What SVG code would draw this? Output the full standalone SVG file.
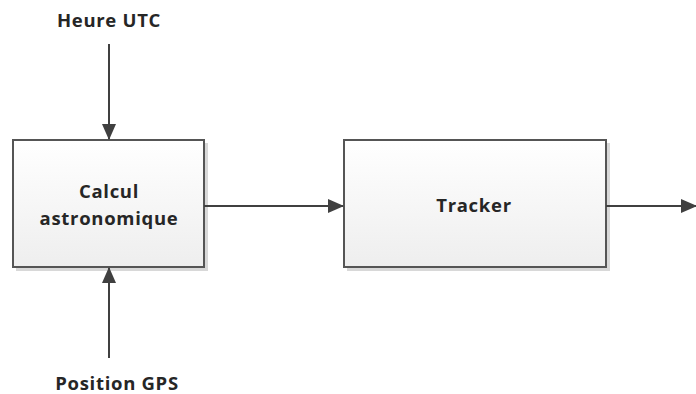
<svg xmlns="http://www.w3.org/2000/svg" width="696" height="394" viewBox="0 0 696 394">
<defs>
<linearGradient id="g" x1="0" y1="0" x2="0" y2="1">
<stop offset="0" stop-color="#ffffff"/>
<stop offset="1" stop-color="#eeeeee"/>
</linearGradient>
<style>
.box{fill:url(#g);stroke:#555555;stroke-width:2}
.sh{fill:#d8d8d8}
.lbl{font-family:"Open Sans",sans-serif;font-weight:bold;font-size:18.5px;letter-spacing:0.7px;fill:#262626;text-anchor:middle}
.c{stroke:#404040;stroke-width:2;fill:none}
</style>
<marker id="a" viewBox="0 0 16 16" refX="15" refY="8" markerWidth="16" markerHeight="16" markerUnits="userSpaceOnUse" orient="auto">
<path d="M0,1 L16,8 L0,15 z" fill="#404040"/>
</marker>
</defs>
<g id="calcul">
<rect class="sh" x="16" y="143" width="192" height="128"/>
<rect class="box" x="13" y="140" width="191" height="127"/>
<text class="lbl" x="109" y="198">Calcul</text>
<text class="lbl" x="109" y="225">astronomique</text>
</g>
<g id="tracker">
<rect class="sh" x="347" y="143" width="263" height="128"/>
<rect class="box" x="344" y="140" width="262" height="127"/>
<text class="lbl" x="474" y="212">Tracker</text>
</g>
<g id="heure">
<text class="lbl" x="109" y="27">Heure UTC</text>
</g>
<g id="gps">
<text class="lbl" x="117" y="390">Position GPS</text>
</g>
<g id="connectors">
<line class="c" x1="109" y1="44" x2="109" y2="139" marker-end="url(#a)"/>
<line class="c" x1="109" y1="358" x2="109" y2="268" marker-end="url(#a)"/>
<line class="c" x1="204" y1="206" x2="343" y2="206" marker-end="url(#a)"/>
<line class="c" x1="606" y1="206" x2="696" y2="206" marker-end="url(#a)"/>
</g>
</svg>
